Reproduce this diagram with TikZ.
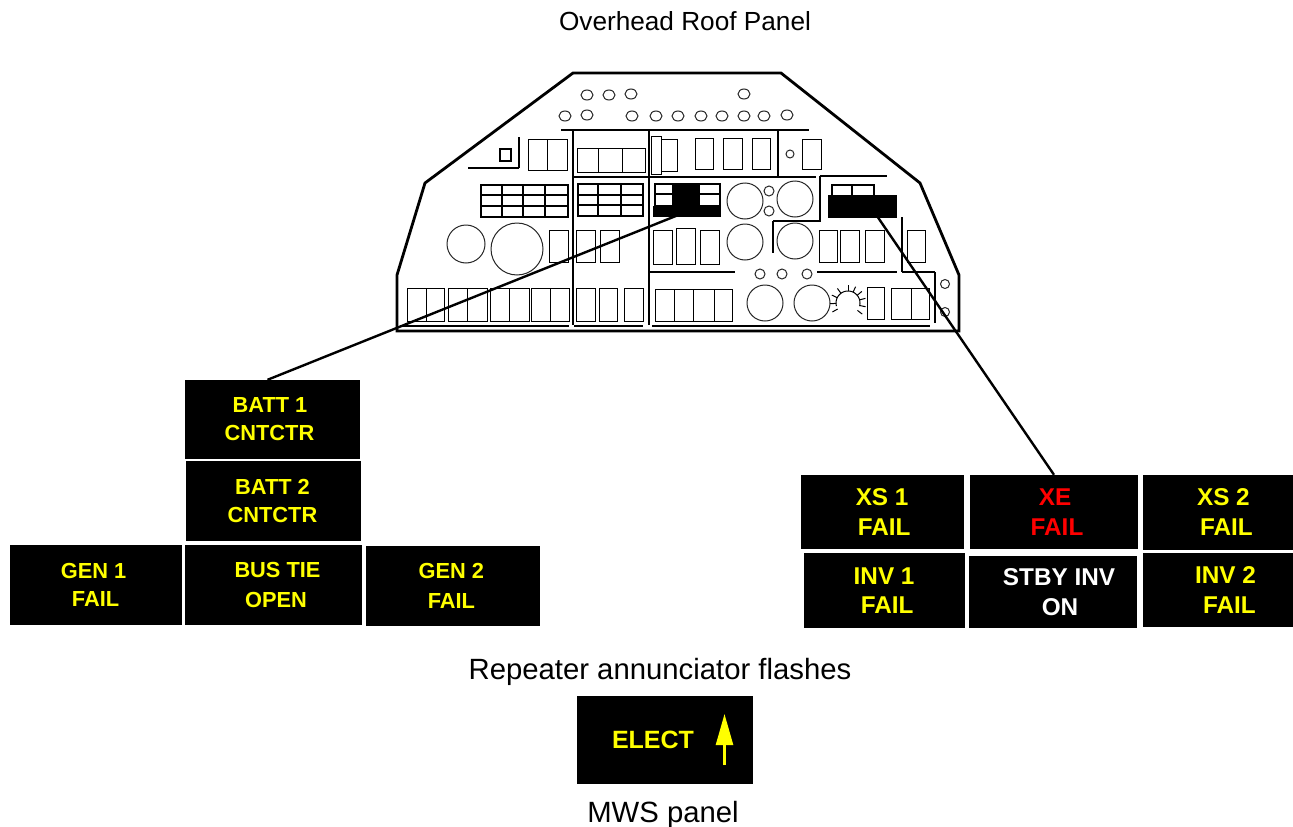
\documentclass[tikz,border=0pt]{standalone}
\usepackage{fontspec}
\setmainfont{Liberation Sans}
\usetikzlibrary{arrows.meta,positioning,calc}
\definecolor{annunY}{RGB}{255,255,0}
\definecolor{annunR}{RGB}{255,0,0}
\tikzset{
  annun/.style 2 args={rectangle, fill=black, text=annunY, align=center, inner sep=0pt,
               font=\fontsize{21.8}{28}\selectfont\bfseries, minimum width=#1, minimum height=#2},
  annunbig/.style={font=\fontsize{24.3}{29.5}\selectfont\bfseries},
  caption/.style={font=\fontsize{29.3}{32}\selectfont, inner sep=0pt, anchor=base},
  patch/.style 2 args={rectangle, fill=black, inner sep=0pt, minimum width=#1, minimum height=#2},
  panelline/.style={line width=2.8pt, line join=miter},
  bar/.style={line width=2.8pt},
  subbar/.style={line width=2pt},
  swbox/.style={line width=1pt},
  gridbox/.style={line width=2pt},
  knob/.style={line width=1pt, draw=black!85},
  leader/.style={line width=2.4pt, draw=black},
}
\begin{document}
\begin{tikzpicture}[x=1pt,y=-1pt]
        \useasboundingbox (0,0) rectangle (1293,827);
        \node[caption, font=\fontsize{26.2}{30}\selectfont] (roof) at (685,30) {Overhead Roof Panel};
        % panel outline and partitions
        \draw[panelline] (573,73) -- (781,73) -- (920,183) -- (959,275) -- (959,331) -- (397,331) -- (397,275) -- (425,183) -- cycle;
        \foreach \xa/\ya/\xb/\yb in {561/130/809/130, 573/130/573/325, 649/130/649/325, 778/130/778/178,
            573/177/816/177, 468/168/519/168, 519/137/519/168}
          \draw[bar] (\xa,\ya) -- (\xb,\yb);
        \foreach \xa/\ya/\xb/\yb in {820/176/887/176, 820/176/820/221,
            773/221/821/221, 773/221/773/253, 650/272/735/272, 817/272/897/272, 902/217/902/272,
            902/272/935/272, 935/272/935/323, 400/326/569/326, 574/326/643/326, 652/326/930/326}
          \draw[subbar] (\xa,\ya) -- (\xb,\yb);
        \draw[line width=2pt] (500,149) rectangle (511,161);
        % switches
        \foreach \xa/\ya/\xb/\yb in {528/139/547/170, 547/139/567/170, 577/148/598/172, 598/148/622/172, 622/148/645/172,
            651/136/661/174, 661/139/677/171, 695/138/713/169, 723/138/742/169, 752/138/770/169, 802/139/821/169,
            549/230/568/262, 576/230/595/262, 600/230/619/262, 653/230/672/264, 676/228/695/264, 700/230/719/264,
            819/230/837/262, 840/230/859/262, 865/230/884/262, 907/230/925/262,
            407/288/426/321, 426/288/444/321, 448/288/467/321, 467/288/487/321, 490/288/509/321, 509/288/529/321,
            531/288/550/321, 550/288/569/321, 576/288/595/321, 599/288/617/321, 624/288/643/321,
            655/289/674/321, 674/289/693/321, 693/289/714/321, 714/289/732/321,
            867/287/884/319, 891/288/911/319, 911/288/929/319}
          \draw[swbox] (\xa,\ya) rectangle (\xb,\yb);
        % breaker grids
        \draw[gridbox] (481,185) rectangle (568,217);
        \foreach \xa in {502,523,545} \draw[gridbox] (\xa,185) -- (\xa,217);
        \foreach \ya in {195,206} \draw[gridbox] (481,\ya) -- (568,\ya);
        \draw[gridbox] (578,184) rectangle (643,216);
        \foreach \xa in {598,621} \draw[gridbox] (\xa,184) -- (\xa,216);
        \foreach \ya in {195,205} \draw[gridbox] (578,\ya) -- (643,\ya);
        % knobs
        \foreach \xa/\ya in {587/95, 609/95, 631/94, 744/94, 565/116, 587/115, 632/116, 656/116, 678/116, 701/116, 722/116, 744/116, 764/116, 787/115}
          \draw[knob] (\xa,\ya) ellipse (6pt and 5pt);
        \foreach \xa/\ya/\rr in {790/154/4, 769/191/5, 769/211/5, 760/274/5, 782/274/5, 807/274/5, 945/284/4.5, 945/312/4.5,
            466/244/19, 517/249/26, 745/201/18, 795/199/18, 745/242/18, 795/241/18, 765/303/18, 812/303/18}
          \draw[knob] (\xa,\ya) circle (\rr pt);
        % dial
        \draw[swbox] plot[domain=165:375, samples=30] ({848+12*cos(\x)},{303+12*sin(\x)});
        \foreach \aa in {150,178,206,234,270,295,320,345,372,398}
          \draw[swbox] ({848+12*cos(\aa)},{303+12*sin(\aa)}) -- ({848+18*cos(\aa)},{303+18*sin(\aa)});
        % blacked out caution groups
        \draw[gridbox, fill=white] (655,184) rectangle (720,206);
        \fill (672,183) rectangle (700,206);
        \draw[gridbox] (655,194) -- (672,194) (700,194) -- (720,194);
        \node[patch={68}{11}] (patchA) at (687,211.5) {};
        \draw[gridbox] (832,185) rectangle (874,196) (852,185) -- (852,196);
        \node[patch={69}{23}] (patchB) at (862.5,206.5) {};
        % left group
        \node[annun={175}{79}] (batt1) at (272.5,419.5) {BATT 1\hspace*{5pt}\\CNTCTR\hspace*{6pt}};
        \node[annun={175}{80}, below=2pt of batt1, xshift=1pt] (batt2) {BATT 2\hspace*{2pt}\\CNTCTR\hspace*{2pt}};
        \node[annun={177}{80}, below=3pt of batt2] (bustie) {\hspace*{8pt}BUS TIE\\[2pt]\hspace*{5pt}OPEN};
        \node[annun={172}{80}, left=3pt of bustie] (gen1) {GEN 1\hspace*{4pt}\\FAIL};
        \node[annun={174}{80}, right=4pt of bustie, yshift=-1pt] (gen2) {GEN 2\hspace*{4pt}\\[2pt]FAIL\hspace*{4pt}};
        % right group
        \node[annun={168}{74}, annunbig, text=annunR] (xefail) at (1054,512) {\hspace*{2pt}XE\\\hspace*{6pt}FAIL};
        \node[annun={163}{74}, annunbig, left=6pt of xefail] (xs1) {XS 1\\\hspace*{4pt}FAIL};
        \node[annun={150}{75}, annunbig, right=5pt of xefail] (xs2) {\hspace*{10pt}XS 2\\\hspace*{16pt}FAIL};
        \node[annun={168}{72}, annunbig, text=white] (stby) at (1053,592) {\hspace*{12pt}STBY INV\\\hspace*{14pt}ON};
        \node[annun={161}{75}, annunbig, left=4pt of stby, yshift=1.5pt] (inv1) {INV 1\\\hspace*{6pt}FAIL};
        \node[annun={150}{74}, annunbig, right=6pt of stby, yshift=2pt] (inv2) {\hspace*{14pt}INV 2\\\hspace*{22pt}FAIL};
        % leaders
        \draw[leader] ([xshift=-5pt]batt1.north) -- (patchA.center);
        \draw[leader] (xefail.north) -- ([xshift=8pt]patchB.center);
        % repeater
        \node[caption] (repeater) at (660,679) {Repeater annunciator flashes};
        \node[annun={176}{88}, font=\fontsize{25}{29}\selectfont\bfseries] (elect) at (665,740) {ELECT\hspace*{24pt}};
        \coordinate (electTail) at (724.5,765);
        \coordinate (electTip) at (724.5,714);
        \draw[-{Triangle[length=31pt,width=17pt]}, line width=2.4pt, draw=annunY, fill=annunY] (electTail) -- (electTip);
        \node[caption] (mws) at (663,822) {MWS panel};
      \end{tikzpicture}
\end{document}
